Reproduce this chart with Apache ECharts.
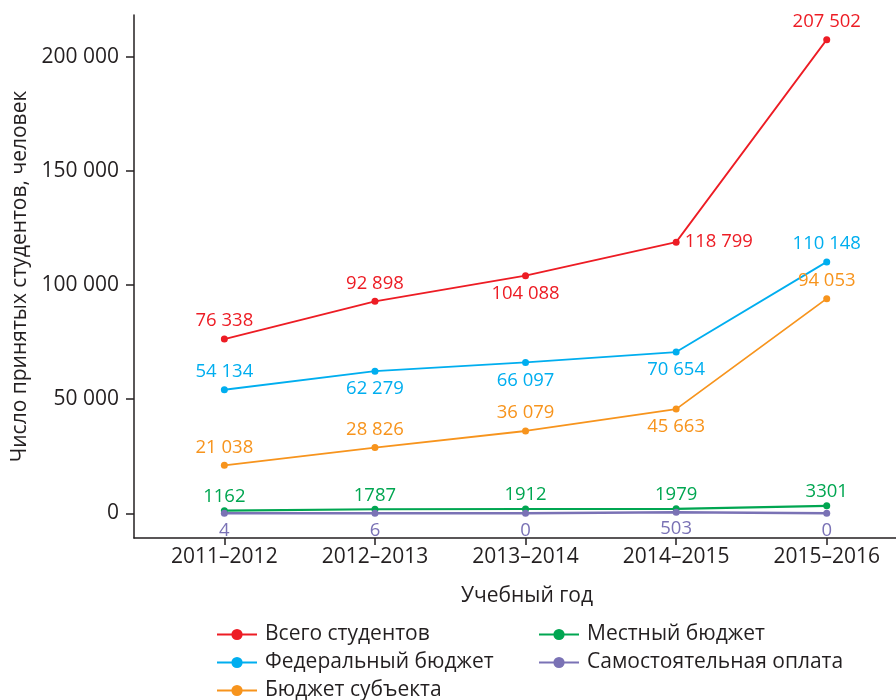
<!DOCTYPE html>
<html><head><meta charset="utf-8">
<script src="https://cdn.jsdelivr.net/npm/echarts@6/dist/echarts.min.js"></script>
<style>html,body{margin:0;padding:0;background:#fff}#c{width:896px;height:700px}</style>
</head><body><div id="c"></div>
<script>
const categories = ['2011–2012','2012–2013','2013–2014','2014–2015','2015–2016'];
const yTicks = [0, 50000, 100000, 150000, 200000];
const seriesNames = ['Всего студентов','Федеральный бюджет','Бюджет субъекта','Местный бюджет','Самостоятельная оплата'];
const total = [76338, 92898, 104088, 118799, 207502];
const federal = [54134, 62279, 66097, 70654, 110148];
const regional = [21038, 28826, 36079, 45663, 94053];
const local = [1162, 1787, 1912, 1979, 3301];
const paid = [4, 6, 0, 503, 0];

const colors = ['#ed1c24','#00aeef','#f7941d','#00a651','#7a72b5'];
const totalPos = ['top','top','bottom','right','top'];
const federalPos = ['top','bottom','bottom','bottom','top'];
const regionalPos = ['top','top','top','bottom','top'];
const localPos = ['top','top','top','top','top'];
const paidPos = ['bottom','bottom','bottom','bottom','bottom'];

const FONT = 'Open Sans';
const INK = '#231f20';
function fmt(v){
  if (v < 10000) return String(v);
  return String(v).replace(/\B(?=(\d{3})+(?!\d))/g, ' ');
}
function mk(name, vals, pos, color, width, dist){
  return {
    name: name, type: 'line',
    data: vals.map((v,i)=>({value:[i,v], label:{position:pos[i]}})),
    symbol: 'circle', symbolSize: 7,
    lineStyle: {color: color, width: width},
    itemStyle: {color: color},
    label: {show: true, color: color, fontFamily: FONT, fontSize: 18.5,
      distance: dist, formatter: p => fmt(p.value[1])},
    z: 3
  };
}
const legendCommon = {orient: 'vertical', top: 624, padding: 0, height: 90,
  itemWidth: 40, itemHeight: 14, itemGap: 7,
  textStyle: {color: INK, fontFamily: FONT, fontSize: 21, padding: [0,0,0,3]}};
const chart = echarts.init(document.getElementById('c'));
chart.setOption({
  animation: false,
  grid: {left: 134, top: 15, right: 0, bottom: 162, containLabel: false},
  xAxis: {
    type: 'value', min: -0.6, max: 4.46,
    axisLine: {show: true, onZero: false, lineStyle: {color: INK, width: 1.5}},
    splitLine: {show: false},
    axisTick: {show: true, length: 7, customValues: [0,1,2,3,4], lineStyle: {color: INK, width: 1.5}},
    axisLabel: {customValues: [0,1,2,3,4], formatter: v => categories[Math.round(v)],
      color: INK, fontFamily: FONT, fontSize: 21, margin: 9},
    name: 'Учебный год', nameLocation: 'middle', nameGap: 48,
    nameTextStyle: {color: INK, fontFamily: FONT, fontSize: 21, padding: [0,0,0,24]}
  },
  yAxis: {
    type: 'value', min: -10800, max: 218300,
    axisLine: {show: true, onZero: false, lineStyle: {color: INK, width: 1.5}},
    splitLine: {show: false},
    axisTick: {show: true, length: 8, customValues: yTicks, lineStyle: {color: INK, width: 1.5}},
    axisLabel: {customValues: yTicks, formatter: v => fmt(v),
      color: INK, fontFamily: FONT, fontSize: 21, margin: 15},
    name: 'Число принятых студентов, человек', nameLocation: 'middle', nameGap: 90,
    nameTextStyle: {color: INK, fontFamily: FONT, fontSize: 21}
  },
  legend: [
    Object.assign({data: seriesNames.slice(0,3), left: 216}, legendCommon),
    Object.assign({data: seriesNames.slice(3), left: 538}, legendCommon)
  ],
  series: [
    mk(seriesNames[0], total, totalPos, colors[0], 1.8, 5),
    mk(seriesNames[1], federal, federalPos, colors[1], 1.8, 5),
    mk(seriesNames[2], regional, regionalPos, colors[2], 1.8, 5),
    mk(seriesNames[3], local, localPos, colors[3], 2.2, 1),
    mk(seriesNames[4], paid, paidPos, colors[4], 2.5, 4)
  ]
});
</script></body></html>
